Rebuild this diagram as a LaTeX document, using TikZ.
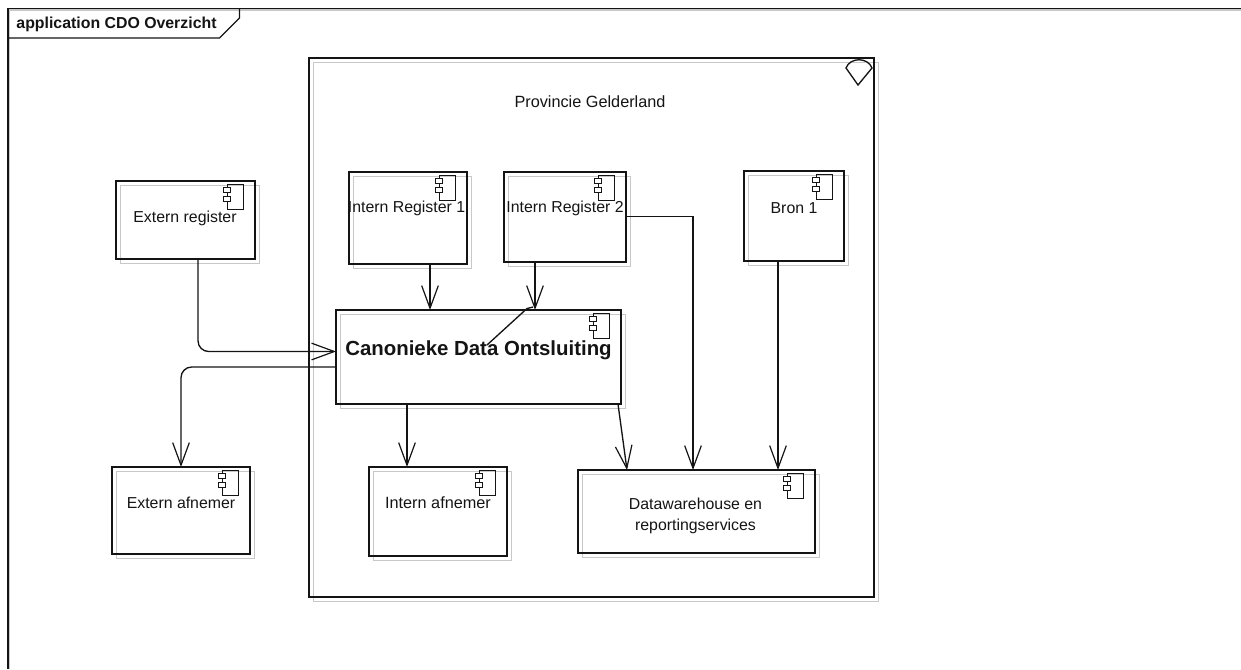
\documentclass[tikz,border=0pt]{standalone}
\usepackage{fontspec}
\setmainfont{Liberation Sans}
\usetikzlibrary{arrows.meta}
\definecolor{shadowgray}{RGB}{200,200,200}
\definecolor{inkline}{RGB}{20,20,20}
\newcommand{\sizeA}{\fontsize{12.2pt}{15pt}\selectfont}
\newcommand{\sizeC}{\fontsize{11.9pt}{15pt}\selectfont}
\newcommand{\sizeD}{\fontsize{15.3pt}{18pt}\selectfont\bfseries}
\tikzset{
  boxline/.style={draw=inkline,line width=1pt},
  shadowline/.style={draw=shadowgray,line width=1.25pt},
  iconline/.style={draw=inkline,line width=0.65pt},
  label/.style={inner sep=0pt,text=inkline,align=center},
  conn/.style={draw=inkline,line width=1pt,-{Straight Barb[length=17pt,width=12.5pt,line width=0.9pt]}},
  seg/.style={draw=inkline,line width=1pt},
}
% name, x1, y1, x2, y2, label x, label y, label
\newcommand{\compbox}[8]{%
  \draw[shadowline] (#2+4.5,#3+4.5) rectangle (#4+4.5,#5+4.5);
  \node[boxline,minimum width={(#4-#2)*0.75pt},minimum height={(#5-#3)*0.75pt},inner sep=0pt,outer sep=0pt,anchor=north west] (#1) at (#2,#3) {};
  \draw[iconline] (#4-28,#3+3) rectangle (#4-12,#3+28);
  \draw[iconline,fill=white] (#4-31.5,#3+6.5) rectangle (#4-24.5,#3+11.5);
  \draw[iconline,fill=white] (#4-31.5,#3+15.5) rectangle (#4-24.5,#3+20.5);
  \node[label] (#1text) at (#6,#7) {#8};
}
\begin{document}
\begin{tikzpicture}[x=0.75pt,y=-0.75pt]
\useasboundingbox (0,0) rectangle (1241,669);
% frame
\draw[shadowline] (9.5,669) -- (9.5,10) -- (1241,10);
\draw[boxline] (8,669) -- (8,8.5) -- (1241,8.5);
\draw[boxline] (8,38) -- (219.5,38) -- (239.5,18) -- (239.5,8.5);
\node[label,font=\fontsize{11.9pt}{14pt}\selectfont\bfseries] (title) at (116.5,24) {application CDO Overzicht};
% package
\draw[shadowline] (313.5,62.5) rectangle (878.5,601.5);
\node[boxline,minimum width={565*0.75pt},minimum height={539*0.75pt},inner sep=0pt,outer sep=0pt,anchor=north west] (prov) at (309,58) {};
\draw[boxline] (846,68) .. controls (850,57) and (868,57) .. (872,68) -- (858,85) -- cycle;
\node[label] (provtext) at (590,102) {\sizeA Provincie Gelderland};
% components
\compbox{extreg}{116}{181}{255}{259}{185}{218}{\sizeC Extern register}
\compbox{reg1}{349}{172}{467}{264}{406.5}{208}{\sizeC Intern Register 1}
\compbox{reg2}{504}{172}{626}{262}{565}{208}{\sizeC Intern Register 2}
\compbox{bron}{744}{171}{844}{261}{794}{208}{\sizeC Bron 1}
\compbox{cdo}{336}{310}{621}{404}{478.5}{350}{\sizeD Canonieke Data Ontsluiting}
\compbox{extafn}{112}{467}{250}{554}{181}{503}{\sizeC Extern afnemer}
\compbox{intafn}{369}{467}{507}{556}{438}{503}{\sizeA Intern afnemer}
\compbox{dwh}{578}{470}{815}{553}{695.5}{516}{\sizeC Datawarehouse en\\[3.2pt]\sizeC reportingservices}
% connectors
\draw[conn,rounded corners=8pt] (extreg.south -| 198,0) -- (198,351.5) -- (cdo.west |- 0,351.5);
\draw[conn,rounded corners=8pt] (cdo.west |- 0,367) -- (181,367) -- (extafn.north);
\draw[conn] (reg1.south -| 430,0) -- (cdo.north -| 430,0);
\draw[conn] (reg2.south -| 535,0) -- (cdo.north -| 535,0);
\coordinate (diagA) at (533,307);
\coordinate (diagB) at (527,308.5);
\coordinate (diagC) at (487,345);
\draw[seg] (diagA) -- (diagB) -- (diagC);
\draw[conn] (reg2.east |- 0,216.5) -- (693,216.5) -- (dwh.north -| 693,0);
\draw[conn] (bron.south -| 778,0) -- (dwh.north -| 778,0);
\draw[conn] (cdo.south -| 407,0) -- (intafn.north -| 407,0);
\coordinate (cdoexit) at (618,404);
\coordinate (dwhentry) at (627,470);
\draw[conn] (cdoexit) -- (dwhentry);
\end{tikzpicture}
\end{document}
